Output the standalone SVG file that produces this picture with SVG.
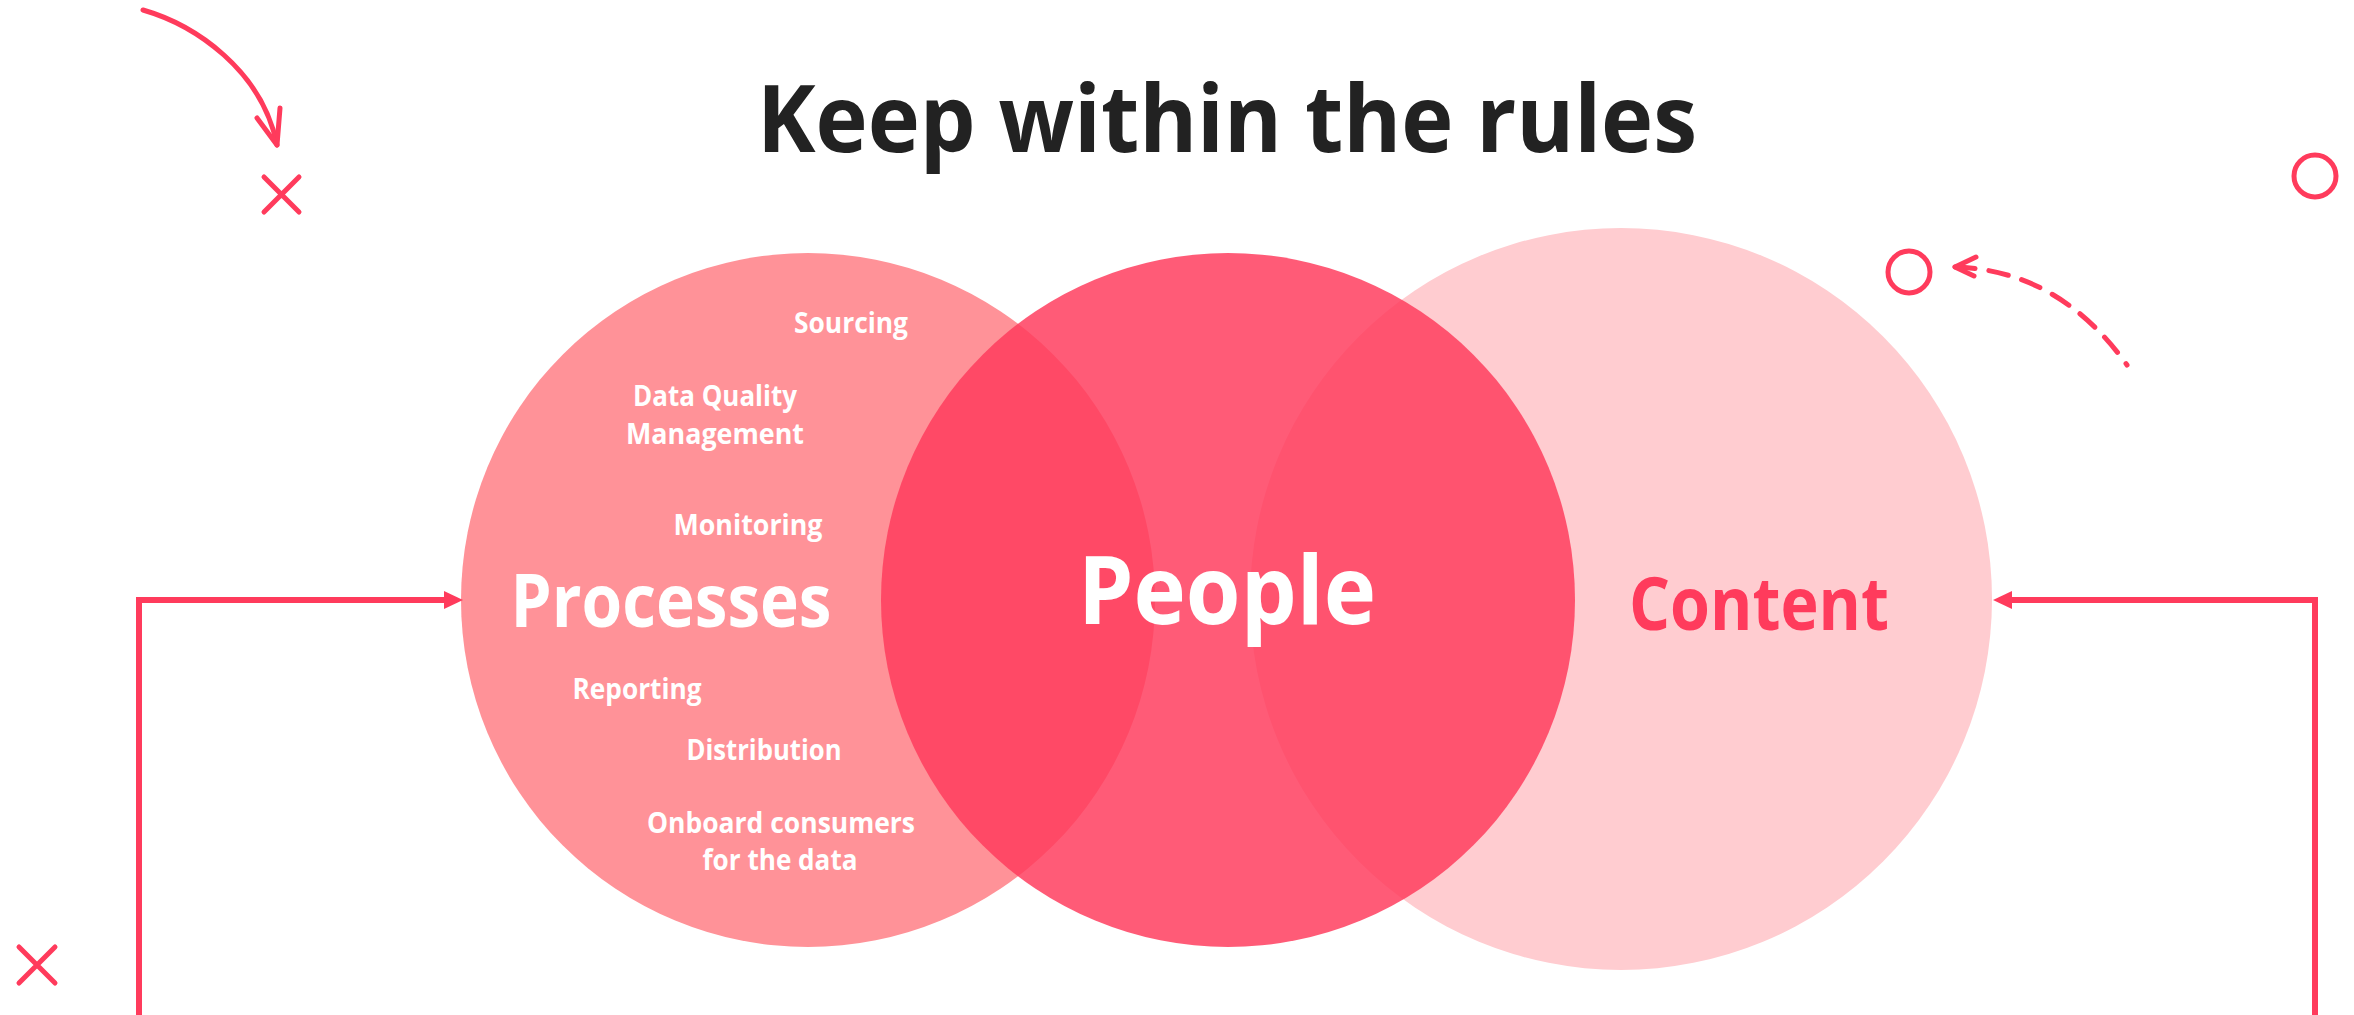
<svg xmlns="http://www.w3.org/2000/svg" width="2354" height="1015" viewBox="0 0 2354 1015">
<style>
text{font-family:"Open Sans","Noto Sans",sans-serif;font-weight:bold}
.title{fill:#222222;font-size:94px}
.big{fill:#ffffff;font-size:74px}
.huge{fill:#ffffff;font-size:95px}
.content{fill:#FF3B5C;font-size:74px}
.small{fill:#ffffff;font-size:29px}
.deco{fill:none;stroke:#FF3B5C;stroke-width:5;stroke-linecap:round;stroke-linejoin:round}
.conn{fill:none;stroke:#FF3B5C;stroke-width:6}
</style>
<defs>
<marker id="arr" markerUnits="userSpaceOnUse" markerWidth="19" markerHeight="18" viewBox="0 0 19 18" refX="0" refY="9" orient="auto">
<path d="M0,0 L19,9 L0,18 Z" fill="#FF3B5C"/>
</marker>
</defs>
<rect width="2354" height="1015" fill="#ffffff"/>
<text class="title" x="1227" y="152" text-anchor="middle" textLength="940" lengthAdjust="spacingAndGlyphs">Keep within the rules</text>
<g id="content">
<circle cx="1621" cy="599" r="371" fill="#FFCCD0"/>
<text class="content" x="1759" y="630" text-anchor="middle" textLength="260" lengthAdjust="spacingAndGlyphs">Content</text>
</g>
<g id="processes">
<circle cx="808" cy="600" r="347" fill="#FF9298"/>
</g>
<g id="people">
<circle cx="1228" cy="600" r="347" fill="#FF3B5C" fill-opacity="0.835"/>
<text class="huge" x="1227" y="624" text-anchor="middle" textLength="298" lengthAdjust="spacingAndGlyphs">People</text>
</g>
<g id="processes-labels">
<text class="big" x="671" y="627" text-anchor="middle" textLength="321" lengthAdjust="spacingAndGlyphs">Processes</text>
<text class="small" x="851" y="333" text-anchor="middle" textLength="114" lengthAdjust="spacingAndGlyphs">Sourcing</text>
<text class="small" x="715" y="406" text-anchor="middle" textLength="164" lengthAdjust="spacingAndGlyphs">Data Quality</text>
<text class="small" x="715" y="444" text-anchor="middle" textLength="178" lengthAdjust="spacingAndGlyphs">Management</text>
<text class="small" x="748" y="535" text-anchor="middle" textLength="149" lengthAdjust="spacingAndGlyphs">Monitoring</text>
<text class="small" x="637" y="699" text-anchor="middle" textLength="129" lengthAdjust="spacingAndGlyphs">Reporting</text>
<text class="small" x="764" y="760" text-anchor="middle" textLength="155" lengthAdjust="spacingAndGlyphs">Distribution</text>
<text class="small" x="781" y="833" text-anchor="middle" textLength="268" lengthAdjust="spacingAndGlyphs">Onboard consumers</text>
<text class="small" x="780" y="870" text-anchor="middle" textLength="155" lengthAdjust="spacingAndGlyphs">for the data</text>
</g>
<g id="connectors">
<path class="conn" d="M139,1015 L139,600 L444,600" marker-end="url(#arr)"/>
<path class="conn" d="M2315,1015 L2315,600 L2012,600" marker-end="url(#arr)"/>
</g>
<g id="decorations">
<path class="deco" d="M143,10 C195,25 262,70 277,145"/>
<path class="deco" d="M257,118 L277,145 L280,108"/>
<path class="deco" d="M264,177 L299,212 M299,177 L264,212"/>
<path class="deco" d="M19,947 L55,983 M55,947 L19,983"/>
<circle class="deco" cx="2315" cy="176" r="21"/>
<circle class="deco" cx="1909" cy="272" r="21"/>
<path class="deco" d="M1955,267 Q2059,270 2127,365" stroke-dasharray="20 14"/>
<path class="deco" d="M1976,257 L1955,267 L1974,276"/>
</g>
</svg>
